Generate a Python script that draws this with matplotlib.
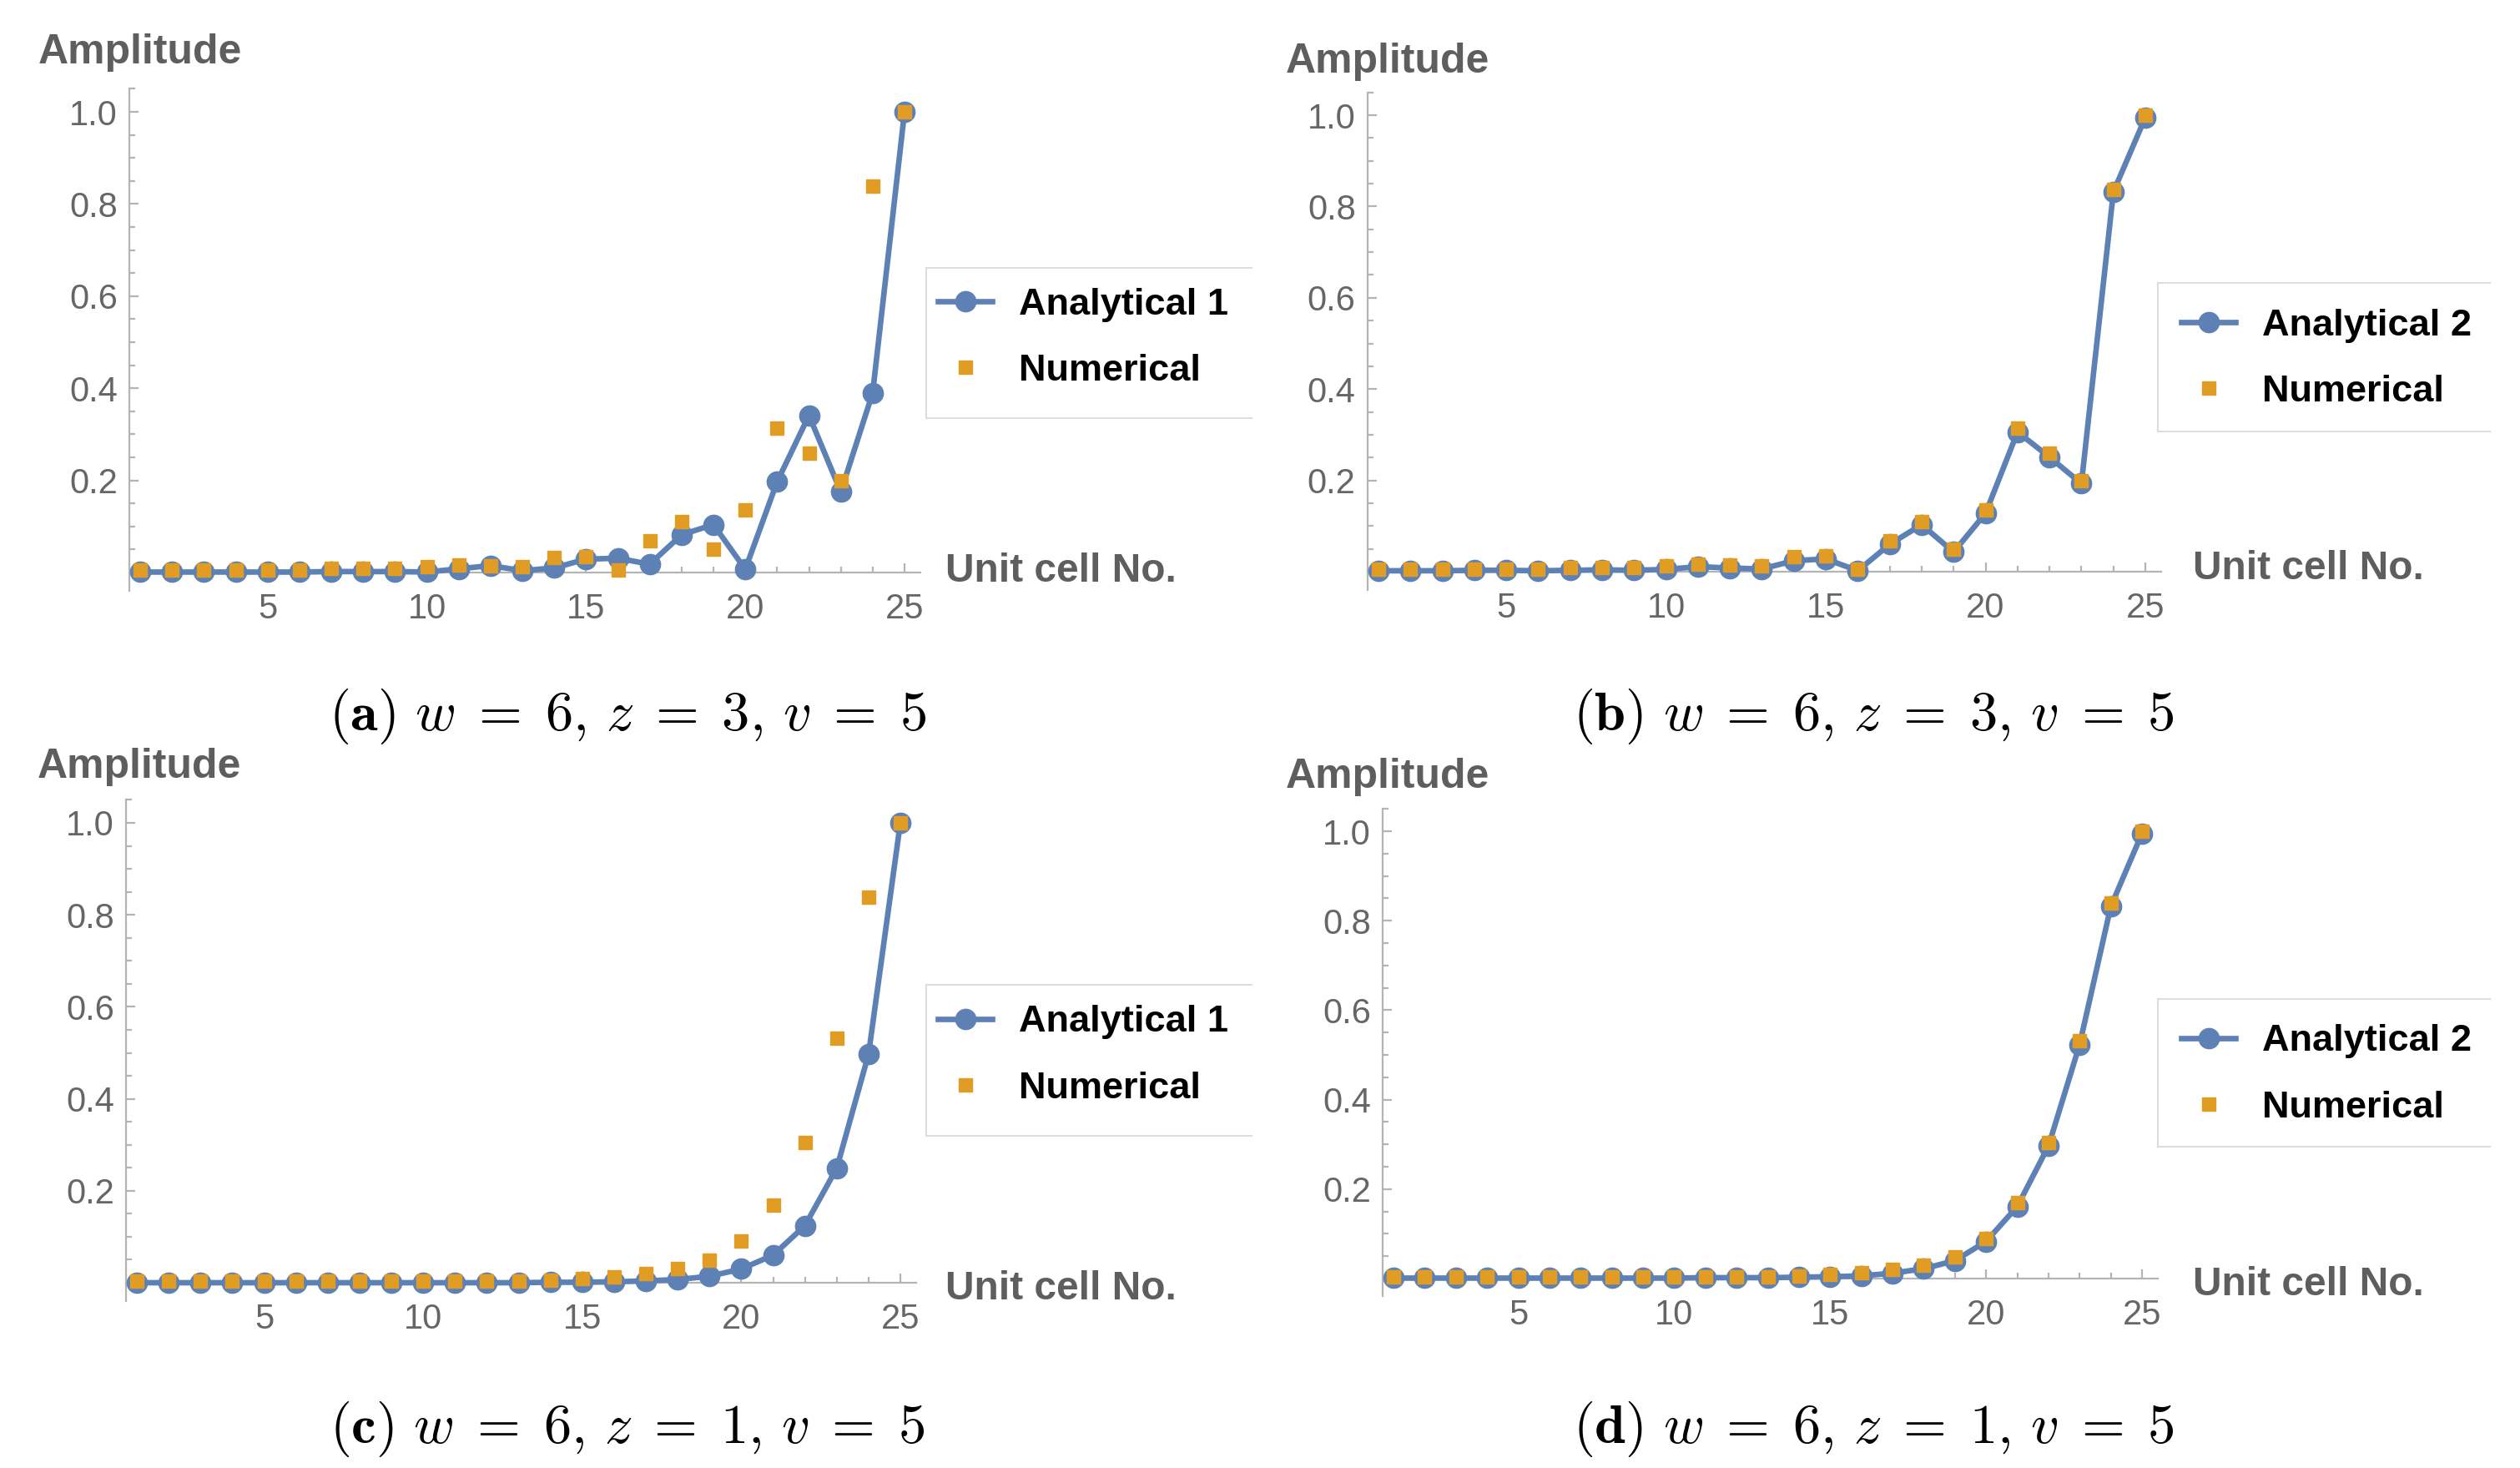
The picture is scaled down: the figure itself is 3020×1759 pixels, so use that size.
import matplotlib
matplotlib.use("Agg")
import matplotlib.pyplot as plt
from matplotlib.lines import Line2D
from matplotlib.ticker import MultipleLocator
import numpy as np

plt.rcParams['font.family'] = ['Liberation Sans', 'DejaVu Sans']
plt.rcParams['mathtext.fontset'] = 'cm'

cells = np.arange(1, 26)

# panel (a): analytical 1 vs numerical, z = 3
analytical1_a = [0.001, 0.001, 0.001, 0.001, 0.001, 0.001, 0.002, 0.002, 0.002, 0.001,
                 0.008, 0.015, 0.004, 0.010, 0.029, 0.031, 0.018, 0.082, 0.104, 0.007,
                 0.197, 0.341, 0.175, 0.390, 1.000]
# numerical result, z = 3 (panels a and b)
numerical_z3 = [0.006, 0.006, 0.006, 0.006, 0.006, 0.006, 0.009, 0.009, 0.009, 0.012,
                0.016, 0.014, 0.013, 0.033, 0.035, 0.006, 0.068, 0.110, 0.050, 0.135,
                0.314, 0.259, 0.200, 0.838, 1.000]
# panel (b): analytical 2, z = 3
analytical2_b = [0.002, 0.002, 0.002, 0.003, 0.003, 0.002, 0.003, 0.004, 0.003, 0.005,
                 0.011, 0.008, 0.006, 0.024, 0.028, 0.002, 0.060, 0.103, 0.043, 0.128,
                 0.306, 0.251, 0.193, 0.832, 0.995]
# panel (c): analytical 1, z = 1
analytical1_c = [0.000, 0.000, 0.000, 0.000, 0.000, 0.000, 0.000, 0.000, 0.000, 0.000,
                 0.000, 0.000, 0.000, 0.001, 0.001, 0.002, 0.004, 0.007, 0.014, 0.030,
                 0.060, 0.124, 0.249, 0.497, 1.000]
# numerical result, z = 1 (panels c and d)
numerical_z1 = [0.004, 0.004, 0.004, 0.004, 0.004, 0.004, 0.004, 0.004, 0.004, 0.004,
                0.004, 0.004, 0.004, 0.005, 0.009, 0.013, 0.020, 0.030, 0.049, 0.090,
                0.169, 0.304, 0.531, 0.839, 1.000]
# panel (d): analytical 2, z = 1
analytical2_d = [0.001, 0.001, 0.001, 0.001, 0.001, 0.001, 0.001, 0.001, 0.001, 0.001,
                 0.002, 0.002, 0.002, 0.003, 0.004, 0.006, 0.012, 0.022, 0.040, 0.083,
                 0.161, 0.296, 0.523, 0.832, 0.995]

labels = ["Analytical 1", "Analytical 2", "Analytical 1", "Analytical 2"]
captions = [r"$(\mathbf{a})\ w\;=\;6,\,z\;=\;3,\,v\;=\;5$",
            r"$(\mathbf{b})\ w\;=\;6,\,z\;=\;3,\,v\;=\;5$",
            r"$(\mathbf{c})\ w\;=\;6,\,z\;=\;1,\,v\;=\;5$",
            r"$(\mathbf{d})\ w\;=\;6,\,z\;=\;1,\,v\;=\;5$"]

BLUE = '#5E81B5'
ORANGE = '#E19C24'
AXGRAY = '#B4B4B4'
TXTGRAY = '#666666'
LABGRAY = '#5E5E5E'

W, H = 3020, 1759
fig = plt.figure(figsize=(W / 100, H / 100), dpi=100)

# pixel anchors: x of cell 1, x of cell 25, y of amplitude 0, y of amplitude 1
anchors = [(168, 1084, 686, 134), (1652, 2571, 685, 138),
           (164, 1079, 1537, 986), (1670, 2567, 1532, 996)]
ylab_pos = [(46, 76), (1541, 87), (45, 932), (1541, 944)]
xlab_pos = [(1133, 697), (2628, 694), (1133, 1557), (2628, 1552)]
legbox = [(1110, 321, 501, 1500), (2586, 339, 517, 2984),
          (1110, 1180, 1361, 1500), (2586, 1197, 1374, 2984)]
# extra nudge of the legend entries inside each box (px right, px down)
leg_nudge = [(14, -6), (28, 2), (14, -6), (28, 2)]
cap_pos = [(752, 875), (2245, 875), (752, 1729), (2245, 1729)]

XLO, XHI = 0.65, 25.5
YLO, YHI = -0.04, 1.05

panels = [(analytical1_a, numerical_z3), (analytical2_b, numerical_z3),
          (analytical1_c, numerical_z1), (analytical2_d, numerical_z1)]

for i, (ana, num) in enumerate(panels):
    x1, x25, y0, y1 = anchors[i]
    ppx = (x25 - x1) / 24.0
    ppy = (y0 - y1) / 1.0
    left = x1 + (XLO - 1) * ppx
    right = x1 + (XHI - 1) * ppx
    top = y0 - YHI * ppy
    bot = y0 - YLO * ppy
    ax = fig.add_axes([left / W, 1 - bot / H, (right - left) / W, (bot - top) / H])

    la, = ax.plot(cells, ana, '-o', color=BLUE, lw=4.8, ms=17.5, zorder=3, label=labels[i])
    ln, = ax.plot(cells, num, 's', color=ORANGE, ms=11, zorder=4, label="Numerical")

    ax.set_xlim(XLO, XHI)
    ax.set_ylim(YLO, YHI)
    for s in ['top', 'right']:
        ax.spines[s].set_visible(False)
    ax.spines['bottom'].set_position(('data', 0))
    for s in ['left', 'bottom']:
        ax.spines[s].set_color(AXGRAY)
        ax.spines[s].set_linewidth(1.6)
    ax.set_xticks([5, 10, 15, 20, 25])
    ax.xaxis.set_minor_locator(MultipleLocator(1))
    ax.set_yticks([0.2, 0.4, 0.6, 0.8, 1.0])
    ax.set_yticklabels(['0.2', '0.4', '0.6', '0.8', '1.0'])
    ax.yaxis.set_minor_locator(MultipleLocator(0.05))
    ax.tick_params(which='both', direction='in', color=AXGRAY, width=1.6,
                   labelcolor=TXTGRAY, labelsize=30)
    ax.tick_params(which='major', length=8)
    ax.tick_params(which='minor', length=5)
    ax.tick_params(axis='x', pad=17)
    ax.tick_params(axis='y', pad=10)
    ax.patch.set_visible(False)

    fig.text(ylab_pos[i][0] / W, 1 - ylab_pos[i][1] / H, "Amplitude", fontsize=36,
             fontweight='bold', color=LABGRAY, ha='left', va='baseline')
    fig.text(xlab_pos[i][0] / W, 1 - xlab_pos[i][1] / H, "Unit cell No.", fontsize=34.5,
             fontweight='bold', color=LABGRAY, ha='left', va='baseline')

    bl, bt, bb, br = legbox[i]
    dx, dy = leg_nudge[i]
    leg = ax.legend(handles=[la, ln], loc='center left',
                    bbox_to_anchor=((bl + dx) / W, 1 - ((bt + bb) / 2 + dy) / H),
                    bbox_transform=fig.transFigure,
                    frameon=False, prop={'weight': 'bold', 'size': 32.5},
                    borderpad=0.0, borderaxespad=0.0, labelspacing=0.85,
                    handlelength=1.45, handletextpad=0.7, numpoints=1)
    for t in leg.get_texts():
        t.set_color('black')
    # open-ended legend frame (no right edge, as in the source)
    for xs, ys in [((bl, br), (bt, bt)), ((bl, bl), (bt, bb)), ((bl, br), (bb, bb))]:
        fig.add_artist(Line2D([x / W for x in xs], [1 - y / H for y in ys],
                              color='#DDDDDD', lw=1.5, transform=fig.transFigure))

    fig.text(cap_pos[i][0] / W, 1 - cap_pos[i][1] / H, captions[i], fontsize=48,
             ha='center', va='baseline', color='black')

fig.savefig('out.png', dpi=100, facecolor='white')
